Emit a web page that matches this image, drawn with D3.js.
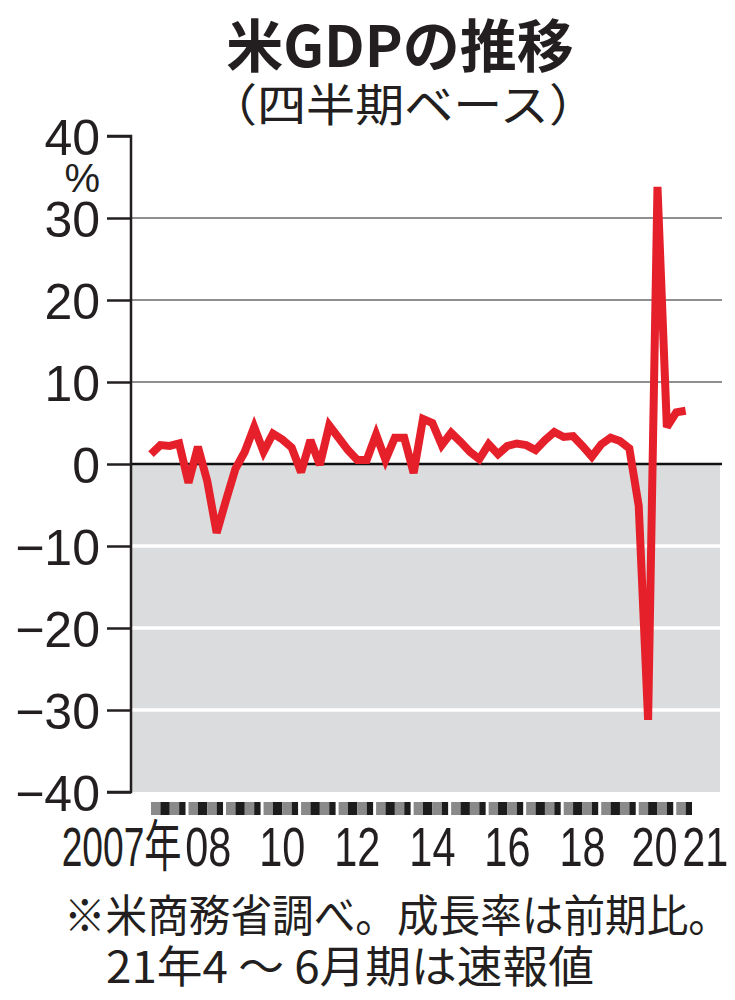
<!DOCTYPE html>
<html>
<head>
<meta charset="utf-8">
<script src="https://cdn.jsdelivr.net/npm/d3@7"></script>
<style>
  html, body { margin: 0; padding: 0; background: #fff; }
  svg { display: block; }
</style>
</head>
<body>
<svg id="chart" width="735" height="1000"></svg>
<script>
// ---- data ----
const years = [2007, 2008, 2009, 2010, 2011, 2012, 2013, 2014, 2015, 2016, 2017, 2018, 2019, 2020, 2021];
// quarterly real GDP growth, annualized, % (2007Q1 .. 2021Q2)
const growth = [
  1.2, 2.3, 2.2, 2.5,
  -2.3, 2.1, -2.1, -8.4,
  -4.4, -0.6, 1.5, 4.5,
  1.5, 3.7, 3.0, 2.0,
  -1.0, 2.9, -0.1, 4.7,
  3.2, 1.7, 0.5, 0.5,
  3.6, 0.5, 3.2, 3.2,
  -1.1, 5.5, 5.0, 2.3,
  3.8, 2.7, 1.5, 0.6,
  2.4, 1.2, 2.2, 2.5,
  2.3, 1.7, 2.9, 3.9,
  3.3, 3.4, 2.2, 0.9,
  2.4, 3.2, 2.8, 1.9,
  -5.1, -31.2, 33.8, 4.5,
  6.3, 6.5
];
const yTicks = [-40, -30, -20, -10, 0, 10, 20, 30, 40];
const xLabelYears = [2007, 2008, 2010, 2012, 2014, 2016, 2018, 2020, 2021];
const xLabelTexts = ["2007年", "08", "10", "12", "14", "16", "18", "20", "21"];
const titleText = "米GDPの推移";
const subtitleText = "（四半期ベース）";
const unitText = "%";
const noteLines = ["※米商務省調べ。成長率は前期比。", "21年4 ～ 6月期は速報値"];

// ---- layout ----
const svg = d3.select("#chart");
const plotLeft = 131, plotRight = 720, plotTop = 136, plotBottom = 792;
const nQ = growth.length;
const y = d3.scaleLinear().domain([-40, 40]).range([plotBottom, plotTop]);
const x = d3.scaleLinear().domain([0, 58]).range([151, 695]);
const RED = "#e5202a";
const INK = "#231f20";
const fmt = v => v < 0 ? "\u2212" + Math.abs(v) : String(v);

// negative zone
svg.append("rect")
  .attr("x", plotLeft).attr("y", y(0))
  .attr("width", plotRight - plotLeft).attr("height", y(-40) - y(0))
  .attr("fill", "#dbdcdd");

// grid lines
svg.append("g").selectAll("line")
  .data(yTicks.filter(v => v !== 0 && v !== 40 && v !== -40))
  .join("line")
  .attr("x1", plotLeft).attr("x2", plotRight + 2)
  .attr("y1", d => y(d)).attr("y2", d => y(d))
  .attr("stroke", d => d > 0 ? "#8f8f8f" : "#ffffff")
  .attr("stroke-width", d => d > 0 ? 2 : 3.5);

// zero line
svg.append("line")
  .attr("x1", plotLeft).attr("x2", plotRight + 2)
  .attr("y1", y(0)).attr("y2", y(0))
  .attr("stroke", "#111").attr("stroke-width", 2.5);

// y axis
const yAxis = d3.axisLeft(y).tickValues(yTicks).tickSize(24).tickFormat(fmt).tickPadding(7);
const gy = svg.append("g").attr("transform", `translate(${plotLeft},0)`).call(yAxis);
gy.select(".domain").attr("stroke", INK).attr("stroke-width", 2.5)
  .attr("d", `M-24,${plotTop}H0V${plotBottom}H-24`);
gy.selectAll(".tick line").attr("stroke", INK).attr("stroke-width", 2.5);
gy.selectAll(".tick text")
  .attr("fill", INK)
  .attr("font-family", "'Liberation Sans', Arial, sans-serif")
  .attr("font-size", 50)
  .attr("dy", "0.36em");

// unit
svg.append("text")
  .attr("x", 100).attr("y", 192)
  .attr("text-anchor", "end")
  .attr("font-family", "'Liberation Sans', Arial, sans-serif")
  .attr("font-size", 40)
  .attr("fill", INK)
  .text(unitText);

// quarter bar
const quarters = d3.range(nQ).map(i => ({ i, q: i % 4, year: years[Math.floor(i / 4)] }));
svg.append("g").selectAll("rect")
  .data(quarters)
  .join("rect")
  .attr("x", d => x(d.i))
  .attr("width", d => (x(d.i + 1) - x(d.i)) - ((d.q === 3 || d.i === nQ - 1) ? 3 : 0))
  .attr("y", 802).attr("height", 13)
  .attr("fill", d => d.q % 2 === 0 ? "#8a8a8a" : "#1c1c1c");

// x labels
const labelData = xLabelYears.map((yr, k) => ({ yr, text: xLabelTexts[k], k }));
const xl = svg.append("g");
labelData.forEach(d => {
  const yi = years.indexOf(d.yr) * 4;
  const last = d.k === labelData.length - 1;
  const first = d.k === 0;
  let px, anchor;
  if (first) { px = x(yi + 4) - 7; anchor = "end"; }
  else if (last) { px = x(yi) + 6; anchor = "start"; }
  else { px = (x(yi) + x(Math.min(yi + 4, 58))) / 2; anchor = "middle"; }
  if (d.yr === 2020) px -= 3;
  if (d.yr === 2008) px += 1;
  const t = xl.append("text")
    .attr("transform", `translate(${px},866) scale(0.74,1)`)
    .attr("text-anchor", anchor)
    .attr("font-family", "'Liberation Sans', Arial, 'Noto Sans CJK JP', sans-serif")
    .attr("font-size", 56)
    .attr("fill", INK)
    .text(d.text);
  if (first) t.attr("textLength", 162).attr("lengthAdjust", "spacingAndGlyphs");
});

// line
const line = d3.line().x((d, i) => x(i)).y(d => y(d));
svg.append("path")
  .datum(growth)
  .attr("d", line)
  .attr("fill", "none")
  .attr("stroke", RED)
  .attr("stroke-width", 8)
  .attr("stroke-linejoin", "miter")
  .attr("stroke-miterlimit", 3);

// title
svg.append("text")
  .attr("x", 400).attr("y", 67)
  .attr("text-anchor", "middle")
  .attr("font-family", "'Noto Sans CJK JP', sans-serif")
  .attr("font-weight", 700)
  .attr("font-size", 57)
  .attr("fill", INK)
  .text(titleText);

svg.append("text")
  .attr("x", 403).attr("y", 122)
  .attr("text-anchor", "middle")
  .attr("font-family", "'Noto Sans CJK JP', sans-serif")
  .attr("font-size", 45)
  .attr("textLength", 390)
  .attr("lengthAdjust", "spacingAndGlyphs")
  .attr("fill", INK)
  .text(subtitleText);

// notes
svg.append("text")
  .attr("x", 64).attr("y", 932)
  .attr("font-family", "'Noto Sans CJK JP', sans-serif")
  .attr("font-size", 44)
  .attr("textLength", 666)
  .attr("lengthAdjust", "spacingAndGlyphs")
  .attr("fill", INK)
  .text(noteLines[0]);
svg.append("text")
  .attr("x", 106).attr("y", 983)
  .attr("font-family", "'Noto Sans CJK JP', sans-serif")
  .attr("font-size", 44)
  .attr("textLength", 488)
  .attr("lengthAdjust", "spacingAndGlyphs")
  .attr("fill", INK)
  .text(noteLines[1]);
</script>
</body>
</html>
